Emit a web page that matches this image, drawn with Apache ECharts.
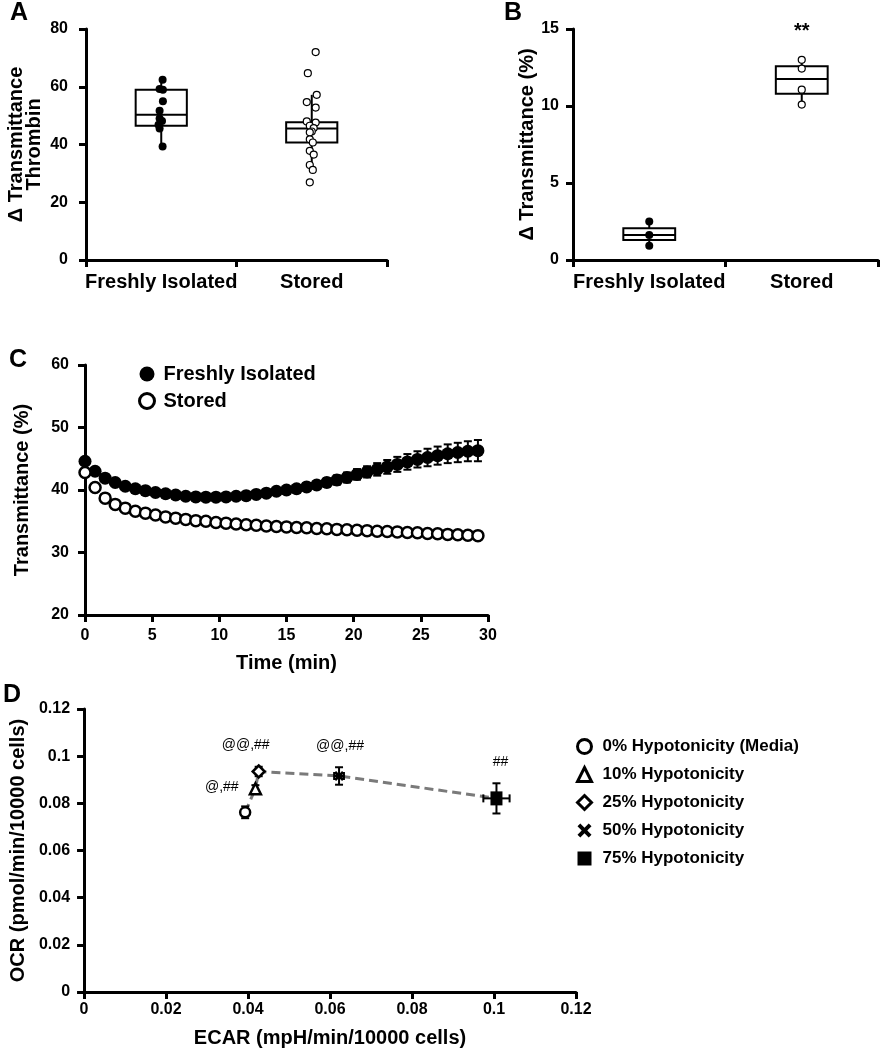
<!DOCTYPE html>
<html><head><meta charset="utf-8">
<script src="https://cdn.jsdelivr.net/npm/echarts@6/dist/echarts.min.js"></script>
<style>html,body{margin:0;padding:0;background:#fff}#c{width:882px;height:1050px}</style>
</head><body><div id="c"></div>
<script>
// ---------- Panel A ----------
const catsA = ['Freshly Isolated', 'Stored'];
const boxA = [[39.4, 46.5, 50.3, 59.0, 62.4], [31.2, 40.7, 45.5, 47.7, 57.2]]; // min,q1,median,q3,max
const freshA = [62.4, 59.2, 59.0, 55.0, 51.7, 49.0, 48.1, 46.8, 45.5, 39.3];
const freshAJitter = [0.009, -0.011, 0.011, 0.011, -0.011, -0.011, 0.005, -0.018, -0.011, 0.009];
const storedA = [72.0, 64.7, 57.2, 54.7, 52.8, 48.0, 47.6, 46.5, 45.7, 44.5, 44.2, 41.8, 40.7, 37.8, 36.5, 32.9, 31.2, 26.9];
const storedAJitter = [0.026, -0.026, 0.033, -0.033, 0.026, -0.033, 0.026, -0.013, 0.013, 0, -0.013, -0.013, 0.007, -0.013, 0.013, -0.013, 0.007, -0.013];
// ---------- Panel B ----------
const catsB = ['Freshly Isolated', 'Stored'];
const boxB = [[0.93, 1.30, 1.63, 2.06, 2.50], [10.09, 10.80, 11.76, 12.58, 13.00]];
const freshB = [2.50, 1.63, 0.93];
const storedB = [13.00, 12.43, 11.06, 10.09];
const sigB = '**';
const sigBValue = 15;
// ---------- Panel C ----------
const timeC = [0, 0.75, 1.5, 2.25, 3, 3.75, 4.5, 5.25, 6, 6.75, 7.5, 8.25, 9, 9.75, 10.5, 11.25, 12, 12.75, 13.5, 14.25,
  15, 15.75, 16.5, 17.25, 18, 18.75, 19.5, 20.25, 21, 21.75, 22.5, 23.25, 24, 24.75, 25.5, 26.25, 27, 27.75, 28.5, 29.25];
const freshC = [44.6, 43.0, 41.9, 41.2, 40.6, 40.2, 39.9, 39.6, 39.4, 39.2, 39.0, 38.9, 38.85, 38.85, 38.9, 39.0, 39.1, 39.3, 39.5, 39.8,
  40.0, 40.2, 40.5, 40.8, 41.2, 41.6, 42.0, 42.5, 42.9, 43.3, 43.7, 44.1, 44.5, 44.9, 45.2, 45.5, 45.8, 46.0, 46.2, 46.3];
const freshSemC = [0.3, 0.3, 0.3, 0.3, 0.3, 0.3, 0.3, 0.3, 0.3, 0.3, 0.3, 0.35, 0.35, 0.35, 0.4, 0.4, 0.4, 0.45, 0.45, 0.5,
  0.5, 0.55, 0.6, 0.65, 0.7, 0.75, 0.8, 0.85, 0.9, 1.0, 1.1, 1.2, 1.25, 1.3, 1.4, 1.45, 1.5, 1.55, 1.6, 1.7];
const storedC = [42.8, 40.4, 38.7, 37.7, 37.1, 36.6, 36.3, 36.0, 35.7, 35.5, 35.3, 35.1, 35.0, 34.8, 34.7, 34.55, 34.45, 34.35, 34.25, 34.15,
  34.1, 34.0, 33.95, 33.85, 33.8, 33.7, 33.65, 33.55, 33.5, 33.4, 33.35, 33.3, 33.2, 33.15, 33.05, 33.0, 32.9, 32.85, 32.75, 32.7];
const seriesNamesC = ['Freshly Isolated', 'Stored'];
// ---------- Panel D ----------
const levelsD = ['0% Hypotonicity (Media)', '10% Hypotonicity', '25% Hypotonicity', '50% Hypotonicity', '75% Hypotonicity'];
const ecarD = [0.0393, 0.0418, 0.0426, 0.0622, 0.1006];
const ocrD = [0.0762, 0.0862, 0.0935, 0.0916, 0.0821];
const ecarErrD = [0.0005, 0.0004, 0.0005, 0.0012, 0.0032];
const ocrErrD = [0.0025, 0.0015, 0.0020, 0.0037, 0.0064];
const notesD = ['', '@,##', '@@,##', '@@,##', '##'];

// ---------- styling ----------
const FF = '"Liberation Sans", Arial, sans-serif';
const BLACK = '#000';
const BOX_W = 0.34;
const xSym = 'path://M0,2 L2,0 L5,3 L8,0 L10,2 L7,5 L10,8 L8,10 L5,7 L2,10 L0,8 L3,5 Z';
const symD = [
  { symbol: 'circle', symbolSize: 10, itemStyle: { color: '#fff', borderColor: BLACK, borderWidth: 2.5, opacity: 1 } },
  { symbol: 'triangle', symbolSize: 11, itemStyle: { color: '#fff', borderColor: BLACK, borderWidth: 2.5, opacity: 1 } },
  { symbol: 'diamond', symbolSize: 12, itemStyle: { color: '#fff', borderColor: BLACK, borderWidth: 2.5, opacity: 1 } },
  { symbol: xSym, symbolSize: 10, itemStyle: { color: BLACK, opacity: 1 } },
  { symbol: 'rect', symbolSize: [12, 14], itemStyle: { color: BLACK, opacity: 1 } }
];
const legendStyleD = [
  { itemStyle: { borderWidth: 3 } },
  { itemStyle: { borderWidth: 3 } },
  { itemStyle: { borderWidth: 3 } },
  {},
  {}
];
const noteLabelD = [
  {},
  { position: 'left', distance: 10, offset: [0, -2] },
  { position: 'top', distance: 12, offset: [-13, 0] },
  { position: 'top', distance: 18, offset: [1, 0] },
  { position: 'top', distance: 22, offset: [4, 0] }
];

function axisBase(extra) {
  return Object.assign({
    axisLine: { show: true, onZero: false, lineStyle: { color: BLACK, width: 3 } },
    axisTick: { show: true, length: 7, lineStyle: { color: BLACK, width: 3 } },
    splitLine: { show: false },
    axisLabel: { color: BLACK, fontFamily: FF, fontWeight: 'bold', fontSize: 16 },
    nameTextStyle: { color: BLACK, fontFamily: FF, fontWeight: 'bold', fontSize: 20 }
  }, extra);
}
function hiddenX(grid) {
  return { type: 'value', gridIndex: grid, min: -0.5, max: 1.5, show: false };
}
const catLabel = { color: BLACK, fontFamily: FF, fontWeight: 'bold', fontSize: 20, margin: 12, interval: 0 };

function boxRender(params, api) {
  const x = api.value(0);
  const pMin = api.coord([x, api.value(1)]);
  const pQ1 = api.coord([x, api.value(2)]);
  const pMed = api.coord([x, api.value(3)]);
  const pQ3 = api.coord([x, api.value(4)]);
  const pMax = api.coord([x, api.value(5)]);
  const half = api.size([1, 0])[0] * BOX_W / 2;
  const st = { stroke: BLACK, lineWidth: 2 };
  return {
    type: 'group', children: [
      { type: 'line', shape: { x1: pMin[0], y1: pMin[1], x2: pQ1[0], y2: pQ1[1] }, style: st },
      { type: 'line', shape: { x1: pQ3[0], y1: pQ3[1], x2: pMax[0], y2: pMax[1] }, style: st },
      { type: 'rect', shape: { x: pQ3[0] - half, y: pQ3[1], width: 2 * half, height: pQ1[1] - pQ3[1] }, style: { stroke: BLACK, lineWidth: 2, fill: '#fff' } },
      { type: 'line', shape: { x1: pMed[0] - half, y1: pMed[1], x2: pMed[0] + half, y2: pMed[1] }, style: st }
    ]
  };
}
function errRender(params, api) {
  const x = api.value(0), y = api.value(1), ex = api.value(2), ey = api.value(3);
  const st = { stroke: BLACK, lineWidth: 2 };
  const cap = 4;
  const ch = [];
  if (ey > 0) {
    const top = api.coord([x, y + ey]), bot = api.coord([x, y - ey]);
    ch.push({ type: 'line', shape: { x1: top[0], y1: top[1], x2: bot[0], y2: bot[1] }, style: st });
    ch.push({ type: 'line', shape: { x1: top[0] - cap, y1: top[1], x2: top[0] + cap, y2: top[1] }, style: st });
    ch.push({ type: 'line', shape: { x1: bot[0] - cap, y1: bot[1], x2: bot[0] + cap, y2: bot[1] }, style: st });
  }
  if (ex > 0) {
    const l = api.coord([x - ex, y]), r = api.coord([x + ex, y]);
    ch.push({ type: 'line', shape: { x1: l[0], y1: l[1], x2: r[0], y2: r[1] }, style: st });
    ch.push({ type: 'line', shape: { x1: l[0], y1: l[1] - cap, x2: l[0], y2: l[1] + cap }, style: st });
    ch.push({ type: 'line', shape: { x1: r[0], y1: r[1] - cap, x2: r[0], y2: r[1] + cap }, style: st });
  }
  return { type: 'group', children: ch };
}

const chart = echarts.init(document.getElementById('c'), null, { renderer: 'canvas' });

const series = [];
// Panel A
series.push({ type: 'custom', name: 'A box', xAxisIndex: 1, yAxisIndex: 0, renderItem: boxRender, z: 2,
  encode: { x: 0, y: [1, 2, 3, 4, 5] }, data: boxA.map((b, i) => [i].concat(b)) });
series.push({ type: 'scatter', name: 'A fresh', xAxisIndex: 1, yAxisIndex: 0, symbol: 'circle', symbolSize: 8, z: 3,
  itemStyle: { color: BLACK, opacity: 1 }, data: freshA.map((v, i) => [0 + freshAJitter[i], v]) });
series.push({ type: 'scatter', name: 'A stored', xAxisIndex: 1, yAxisIndex: 0, symbol: 'circle', symbolSize: 7, z: 3,
  itemStyle: { color: '#fff', borderColor: BLACK, borderWidth: 1.2, opacity: 1 }, data: storedA.map((v, i) => [1 + storedAJitter[i], v]) });
// Panel B
series.push({ type: 'custom', name: 'B box', xAxisIndex: 3, yAxisIndex: 1, renderItem: boxRender, z: 2,
  encode: { x: 0, y: [1, 2, 3, 4, 5] }, data: boxB.map((b, i) => [i].concat(b)) });
series.push({ type: 'scatter', name: 'B fresh', xAxisIndex: 3, yAxisIndex: 1, symbol: 'circle', symbolSize: 8, z: 3,
  itemStyle: { color: BLACK, opacity: 1 }, data: freshB.map(v => [0, v]) });
series.push({ type: 'scatter', name: 'B stored', xAxisIndex: 3, yAxisIndex: 1, symbol: 'circle', symbolSize: 7, z: 3,
  itemStyle: { color: '#fff', borderColor: BLACK, borderWidth: 1.2, opacity: 1 }, data: storedB.map(v => [1, v]) });
series.push({ type: 'scatter', name: 'B sig', xAxisIndex: 3, yAxisIndex: 1, symbolSize: 0, z: 3,
  itemStyle: { opacity: 1 },
  label: { show: true, position: 'inside', offset: [0, 2], formatter: sigB, color: BLACK, fontFamily: FF, fontWeight: 'bold', fontSize: 20 },
  data: [[1, sigBValue]] });
// Panel C
series.push({ type: 'custom', name: 'C err', xAxisIndex: 4, yAxisIndex: 2, renderItem: errRender, z: 2,
  encode: { x: 0, y: 1 }, data: timeC.map((t, i) => [t, freshC[i], 0, freshSemC[i]]) });
series.push({ type: 'scatter', name: seriesNamesC[0], xAxisIndex: 4, yAxisIndex: 2, symbol: 'circle', symbolSize: 13, z: 3,
  itemStyle: { color: BLACK, opacity: 1 }, data: timeC.map((t, i) => [t, freshC[i]]) });
series.push({ type: 'scatter', name: seriesNamesC[1], xAxisIndex: 4, yAxisIndex: 2, symbol: 'circle', symbolSize: 11, z: 4,
  itemStyle: { color: '#fff', borderColor: BLACK, borderWidth: 2.5, opacity: 1 }, data: timeC.map((t, i) => [t, storedC[i]]) });
// Panel D
series.push({ type: 'line', name: 'D trend', xAxisIndex: 5, yAxisIndex: 3, symbol: 'none', z: 2, silent: true,
  lineStyle: { color: '#7a7a7a', width: 3, type: [9, 5] }, data: ecarD.map((x, i) => [x, ocrD[i]]) });
series.push({ type: 'custom', name: 'D err', xAxisIndex: 5, yAxisIndex: 3, renderItem: errRender, z: 3,
  encode: { x: 0, y: 1 }, data: ecarD.map((x, i) => [x, ocrD[i], ecarErrD[i], ocrErrD[i]]) });
levelsD.forEach((name, i) => {
  series.push(Object.assign({
    type: 'scatter', name: name, xAxisIndex: 5, yAxisIndex: 3, z: 4,
    label: Object.assign({ show: !!notesD[i], formatter: notesD[i], color: BLACK, fontFamily: FF, fontSize: 14 }, noteLabelD[i]),
    data: [[ecarD[i], ocrD[i]]]
  }, symD[i]));
});

const option = {
  animation: false,
  backgroundColor: '#fff',
  textStyle: { fontFamily: FF },
  grid: [
    { left: 86, top: 29, width: 301, height: 231 },
    { left: 573, top: 29, width: 305, height: 231 },
    { left: 85, top: 365, width: 403, height: 250 },
    { left: 79, top: 709, width: 497, height: 283 }
  ],
  xAxis: [
    axisBase({ type: 'category', gridIndex: 0, data: catsA, axisLabel: catLabel }),
    hiddenX(0),
    axisBase({ type: 'category', gridIndex: 1, data: catsB, axisLabel: catLabel }),
    hiddenX(1),
    axisBase({ type: 'value', gridIndex: 2, min: 0, max: 30, interval: 5, name: 'Time (min)', nameLocation: 'middle', nameGap: 38,
      axisLabel: { color: BLACK, fontFamily: FF, fontWeight: 'bold', fontSize: 16, margin: 13 } }),
    axisBase({ type: 'value', gridIndex: 3, min: 0, max: 0.12, interval: 0.02, name: 'ECAR (mpH/min/10000 cells)', nameLocation: 'middle', nameGap: 36,
      axisLabel: { color: BLACK, fontFamily: FF, fontWeight: 'bold', fontSize: 16, margin: 10 } })
  ],
  yAxis: [
    axisBase({ type: 'value', gridIndex: 0, min: 0, max: 80, interval: 20, name: 'Δ Transmittance\nThrombin', nameLocation: 'middle', nameGap: 43,
      nameTextStyle: { color: BLACK, fontFamily: FF, fontWeight: 'bold', fontSize: 20, lineHeight: 18 },
      axisLabel: { color: BLACK, fontFamily: FF, fontWeight: 'bold', fontSize: 16, margin: 18 } }),
    axisBase({ type: 'value', gridIndex: 1, min: 0, max: 15, interval: 5, name: 'Δ Transmittance (%)', nameLocation: 'middle', nameGap: 34,
      axisLabel: { color: BLACK, fontFamily: FF, fontWeight: 'bold', fontSize: 16, margin: 14 } }),
    axisBase({ type: 'value', gridIndex: 2, min: 20, max: 60, interval: 10, name: 'Transmittance (%)', nameLocation: 'middle', nameGap: 53,
      axisLabel: { color: BLACK, fontFamily: FF, fontWeight: 'bold', fontSize: 16, margin: 16 } }),
    axisBase({ type: 'value', gridIndex: 3, min: 0, max: 0.12, interval: 0.02, name: 'OCR (pmol/min/10000 cells)', nameLocation: 'middle', nameGap: 54,
      axisLabel: { color: BLACK, fontFamily: FF, fontWeight: 'bold', fontSize: 16, margin: 14 } })
  ],
  legend: [
    { left: 133, top: 359, orient: 'vertical', itemWidth: 15, itemHeight: 15, itemGap: 7, selectedMode: false,
      data: [{ name: seriesNamesC[0] }, { name: seriesNamesC[1], itemStyle: { borderWidth: 3 } }],
      textStyle: { color: BLACK, fontFamily: FF, fontWeight: 'bold', fontSize: 20, padding: [0, 0, 0, 4] } },
    { left: 571, top: 733, orient: 'vertical', itemWidth: 14, itemHeight: 14, itemGap: 11, selectedMode: false,
      data: levelsD.map((n, i) => Object.assign({ name: n }, legendStyleD[i])),
      textStyle: { color: BLACK, fontFamily: FF, fontWeight: 'bold', fontSize: 17, padding: [0, 0, 0, 6] } }
  ],
  graphic: [
    { type: 'text', left: 10, top: 1, style: { text: 'A', font: 'bold 25px ' + FF, fill: BLACK } },
    { type: 'text', left: 504, top: 1, style: { text: 'B', font: 'bold 25px ' + FF, fill: BLACK } },
    { type: 'text', left: 9, top: 348, style: { text: 'C', font: 'bold 25px ' + FF, fill: BLACK } },
    { type: 'text', left: 3, top: 683, style: { text: 'D', font: 'bold 25px ' + FF, fill: BLACK } }
  ],
  series: series
};
chart.setOption(option);
</script>
</body></html>
